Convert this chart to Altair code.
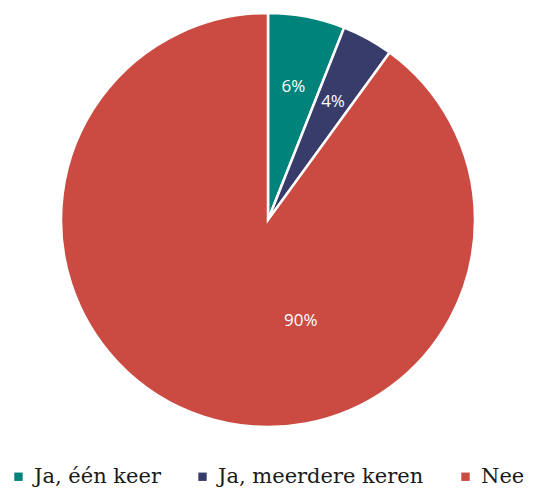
import altair as alt
import pandas as pd

categories = ["Ja, één keer", "Ja, meerdere keren", "Nee"]
values = [6, 4, 90]
labels = ["6%", "4%", "90%"]
colors = ["#00837a", "#383c6b", "#cb4b43"]

df = pd.DataFrame({"cat": categories, "val": values, "label": labels, "ord": [0, 1, 2]})

base = alt.Chart(df).encode(
    theta=alt.Theta("val:Q", stack=True),
    order=alt.Order("ord:Q"),
    x=alt.value(260),
    y=alt.value(211),
)

pie = base.mark_arc(radius=207, stroke="white", strokeWidth=2.5).encode(
    color=alt.Color(
        "cat:N",
        scale=alt.Scale(domain=categories, range=colors),
        sort=categories,
        legend=alt.Legend(
            title=None,
            orient="none",
            legendX=0,
            legendY=457,
            direction="horizontal",
            symbolType="square",
            symbolSize=70,
            symbolStrokeWidth=0,
            labelFont="DejaVu Serif",
            labelFontSize=21,
            labelColor="#1a1a1a",
            labelLimit=400,
            columnPadding=31,
            labelOffset=5,
            padding=0,
        ),
    )
)

small = base.mark_text(radius=135, font="Open Sans", fontSize=17, color="white").encode(
    text="label:N"
).transform_filter(alt.datum.val < 50)

big = base.mark_text(radius=106, font="Open Sans", fontSize=17, color="white").encode(
    text="label:N"
).transform_filter(alt.datum.val >= 50)

chart = (pie + small + big).properties(width=521, height=440, padding=0).configure_view(stroke=None)

chart.save("out.html", embed_options={"renderer": "svg", "actions": False})
